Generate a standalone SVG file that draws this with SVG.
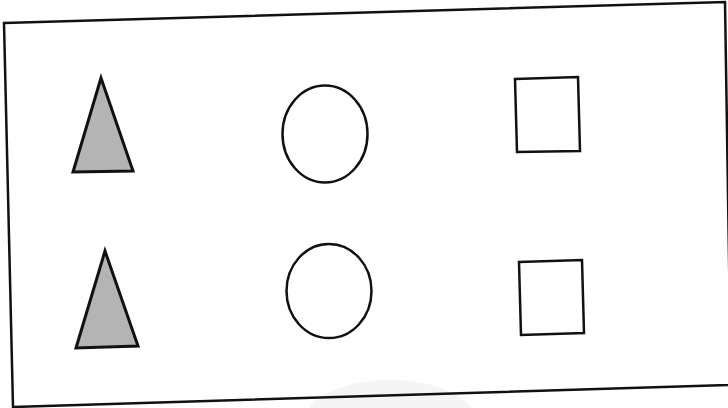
<svg xmlns="http://www.w3.org/2000/svg" width="728" height="408" viewBox="0 0 728 408">
  <style>
    .line { fill: none; stroke: #111; stroke-width: 2.5; stroke-linejoin: miter; }
    .tri { fill: #b4b4b4; stroke: #111; stroke-width: 3; stroke-linejoin: miter; }
    .shape { fill: #fff; stroke: #111; stroke-width: 2.5; }
  </style>
  <rect width="728" height="408" fill="#fff"/>
  <ellipse cx="390" cy="420" rx="85" ry="40" fill="#f5f5f5"/>
  <g id="frame">
    <polygon class="line" points="4,23 725,2 731,385 13,407"/>
  </g>
  <g id="triangle-1">
    <polygon class="tri" points="101,78 133,171 73,172"/>
  </g>
  <g id="circle-1">
    <ellipse class="shape" cx="325" cy="134" rx="42.5" ry="48.5"/>
  </g>
  <g id="square-1">
    <polygon class="shape" points="515,79 578,77 580,151 517,152"/>
  </g>
  <g id="triangle-2">
    <polygon class="tri" points="105,251 138,346 76,348"/>
  </g>
  <g id="circle-2">
    <ellipse class="shape" cx="329" cy="291" rx="42.5" ry="47"/>
  </g>
  <g id="square-2">
    <polygon class="shape" points="519,262 582,260 584,333 521,335"/>
  </g>
  <g id="connectors"/>
</svg>
